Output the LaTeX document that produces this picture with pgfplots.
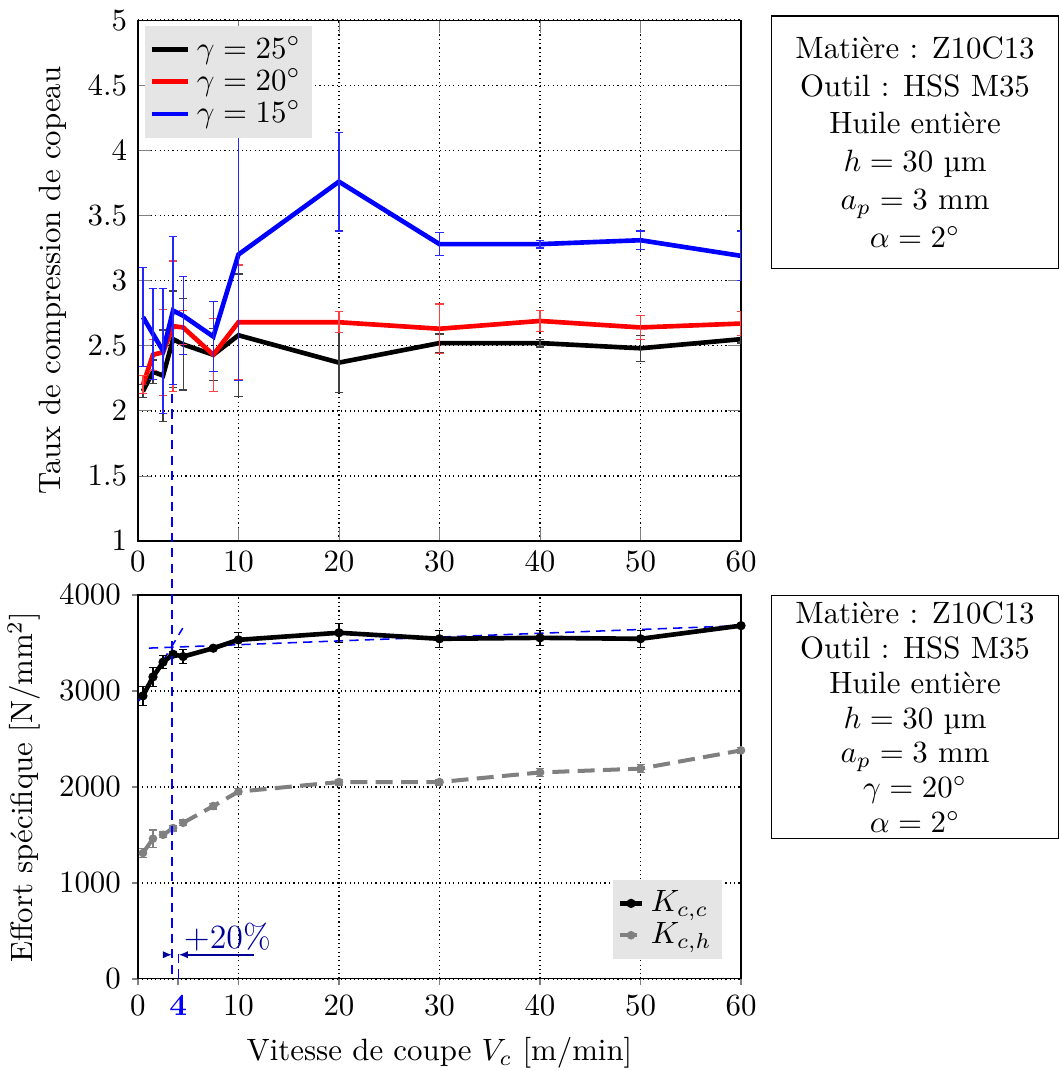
\documentclass[border=0pt]{standalone}
\usepackage{pgfplots}
\pgfplotsset{compat=1.18}
\usetikzlibrary{arrows.meta}
\pgfplotstableread{
x y e
0.5 2.15 0.05
1.5 2.30 0.09
2.5 2.27 0.35
3.5 2.55 0.37
4.5 2.51 0.35
7.5 2.43 0.20
10 2.58 0.47
20 2.37 0.23
30 2.52 0.07
40 2.52 0.03
50 2.48 0.10
60 2.55 0.03
}\gtwentyfive
\pgfplotstableread{
x y e
0.5 2.20 0.07
1.5 2.43 0.12
2.5 2.45 0.33
3.5 2.65 0.50
4.5 2.64 0.13
7.5 2.43 0.28
10 2.68 0.44
20 2.68 0.08
30 2.63 0.19
40 2.69 0.08
50 2.64 0.09
60 2.67 0.09
}\gtwenty
\pgfplotstableread{
x y e
0.5 2.72 0.38
1.5 2.59 0.35
2.5 2.46 0.48
3.5 2.77 0.57
4.5 2.73 0.30
7.5 2.57 0.27
10 3.20 0.97
20 3.76 0.38
30 3.28 0.09
40 3.28 0.03
50 3.31 0.07
60 3.19 0.19
}\gfifteen
\pgfplotstableread{
x y e
0.5 2948 100
1.5 3146 100
2.5 3300 70
3.5 3382 30
4.5 3358 75
7.5 3445 20
10 3532 80
20 3606 100
30 3543 90
40 3553 80
50 3543 90
60 3680 20
}\kcc
\pgfplotstableread{
x y e
0.5 1310 50
1.5 1460 90
2.5 1500 30
3.5 1570 30
4.5 1625 30
7.5 1800 30
10 1950 30
20 2050 30
30 2050 30
40 2150 40
50 2190 40
60 2380 30
}\kch
\begin{document}
\begin{tikzpicture}
\begin{axis}[name=top, at={(0,0)}, anchor=south west,
  scale only axis, width=195.5pt, height=168.8pt,
  xmin=0, xmax=60, ymin=1, ymax=5,
  xtick={0,10,...,60}, ytick={1,1.5,2,2.5,3,3.5,4,4.5,5},
  grid=major, grid style={densely dotted, black, line width=0.5pt},
  ylabel={Taux de compression de copeau},
  legend style={at={(0.01,0.99)}, anchor=north west, fill=gray!20, draw=none, inner sep=1.5pt, row sep=-2pt},
  legend cell align=left,
  legend image code/.code={\draw[#1] (0cm,0cm) -- (0.42cm,0cm);},
]
\addplot[black, line width=1.5pt, error bars/.cd, y dir=both, y explicit,
  error bar style={black!75, line width=0.4pt, solid}, error mark options={rotate=90, mark size=1.4pt, black!75}]
  table[x=x, y=y, y error=e] {\gtwentyfive};
\addlegendentry{$\gamma=25^\circ$}
\addplot[red, line width=1.5pt, error bars/.cd, y dir=both, y explicit,
  error bar style={red!75, line width=0.4pt, solid}, error mark options={rotate=90, mark size=1.4pt, red!75}]
  table[x=x, y=y, y error=e] {\gtwenty};
\addlegendentry{$\gamma=20^\circ$}
\addplot[blue, line width=1.5pt, error bars/.cd, y dir=both, y explicit,
  error bar style={blue!85, line width=0.4pt, solid}, error mark options={rotate=90, mark size=1.4pt, blue!85}]
  table[x=x, y=y, y error=e] {\gfifteen};
\addlegendentry{$\gamma=15^\circ$}
\coordinate (vtop) at (axis cs:3.4,2.13);
\end{axis}
\node[draw, line width=0.4pt, align=center, anchor=north west, minimum width=93pt, minimum height=81.8pt, inner sep=2pt]
  at (205.2pt,170.4pt) {Matière : Z10C13\\[0.3pt] Outil : HSS M35\\[0.3pt] Huile entière\\[0.3pt] $h=30$ \textmu m\\[0.3pt] $a_p=3$ mm\\[0.3pt] $\alpha=2^\circ$};
\begin{axis}[name=bot, at={(0,-17.5pt)}, anchor=north west,
  scale only axis, width=195.5pt, height=124.4pt,
  xmin=0, xmax=60, ymin=0, ymax=4000,
  xtick={0,10,...,60}, ytick={0,1000,...,4000},
  extra x ticks={4}, extra x tick labels={$\mathbf{4}$},
  extra x tick style={grid=none, tick label style={text=blue}},
  /pgf/number format/1000 sep={},
  tick align=outside, xtick pos=bottom, ytick pos=left, major tick length=2pt,
  tick style={gray, line width=0.5pt},
  grid=major, grid style={densely dotted, black, line width=0.5pt},
  ylabel={Effort spécifique [N/mm$^2$]},
  ylabel style={inner sep=2.5pt},
  xlabel={Vitesse de coupe $V_c$ [m/min]},
  xlabel style={inner sep=0.8pt, yshift=1.2pt},
  legend style={at={(0.97,0.05)}, anchor=south east, fill=gray!20, draw=none, inner sep=1.5pt, row sep=-2pt},
  legend cell align=left,
  legend image code/.code={\draw[#1, mark repeat=2, mark phase=2] plot coordinates {(0cm,0cm) (0.13cm,0cm) (0.26cm,0cm)};},
]
\draw[draw=blue, densely dashed, line width=0.5pt] (axis cs:1.1,3446) -- (axis cs:60,3680);
\draw[draw=blue, densely dashed, line width=0.5pt] (axis cs:0.1,2895) -- (axis cs:4.46,3654);
\addplot[black, line width=1.5pt, mark=*, mark size=0.7pt, error bars/.cd, y dir=both, y explicit,
  error bar style={black, line width=0.6pt, solid}, error mark options={rotate=90, mark size=1.3pt, black}]
  table[x=x, y=y, y error=e] {\kcc};
\addlegendentry{$K_{c,c}$}
\addplot[gray, line width=1.3pt, dash pattern=on 5.5pt off 2.7pt, mark=*, mark size=0.7pt, mark options={solid}, error bars/.cd, y dir=both, y explicit,
  error bar style={gray, line width=0.6pt, solid}, error mark options={rotate=90, mark size=1.3pt, gray}]
  table[x=x, y=y, y error=e] {\kch};
\addlegendentry{$K_{c,h}$}
\coordinate (vbot) at (axis cs:3.4,0);
\draw[draw=blue, densely dashed, line width=0.5pt] (axis cs:4.06,0) -- (axis cs:4.06,313);
\draw[draw=blue!60!black, line width=0.5pt, -{Latex[length=3pt,width=2.4pt]}] (axis cs:2.6,250) -- (axis cs:3.4,250);
\draw[draw=blue!60!black, line width=0.5pt, -{Latex[length=3pt,width=2.4pt]}] (axis cs:11.5,250) -- (axis cs:4.06,250);
\node[text=blue!60!black, font=\fontsize{11pt}{13pt}\selectfont] at (axis cs:8.9,430) {+20\%};
\end{axis}
\draw[draw=blue, densely dashed, line width=0.5pt] (vtop) -- (vbot);
\node[draw, line width=0.4pt, align=center, anchor=north west, minimum width=93pt, minimum height=76.3pt, inner sep=2pt]
  at (205.2pt,-17.5pt) {Matière : Z10C13\\[-0.7pt] Outil : HSS M35\\[-0.7pt] Huile entière\\[-0.7pt] $h=30$ \textmu m\\[-0.7pt] $a_p=3$ mm\\[-0.7pt] $\gamma=20^\circ$\\[-0.7pt] $\alpha=2^\circ$};
\end{tikzpicture}
\end{document}
